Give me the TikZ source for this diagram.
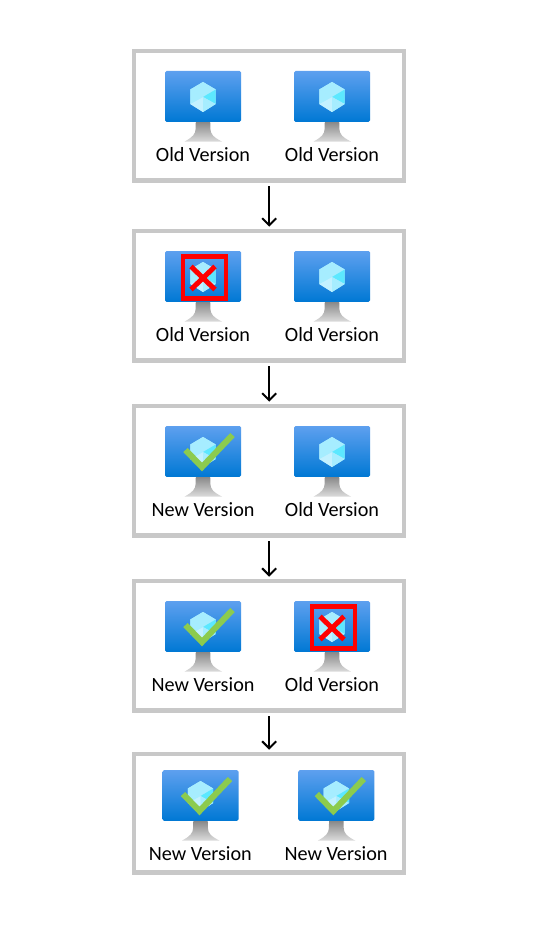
\documentclass[tikz,border=0pt]{standalone}
\usepackage{fontspec}
\usetikzlibrary{arrows.meta}
\setmainfont{Carlito}
\definecolor{boxgray}{HTML}{C8C8C8}
\definecolor{vmtop}{HTML}{5EA0EF}
\definecolor{vmbot}{HTML}{0078D4}
\definecolor{standA}{HTML}{858585}
\definecolor{standB}{HTML}{DCDCDC}
\definecolor{cubeA}{HTML}{C3F1FF}
\definecolor{cubeB}{HTML}{A6EDFF}
\definecolor{cubeC}{HTML}{5CE8FF}
\definecolor{cubeD}{HTML}{B3ECFF}
\definecolor{okgreen}{HTML}{8CCB4E}
\definecolor{badred}{HTML}{FF0000}
\tikzset{
  x=1pt,y=-1pt,
  frame/.style={draw=boxgray,line width=4.5pt,fill=white,minimum width=270pt,inner sep=0pt,outer sep=0pt,anchor=north west},
  flow/.style={draw=black,line width=2pt,-{Straight Barb[length=7pt,width=14pt,line width=2pt]},shorten <=5.5pt,shorten >=4.5pt},
  vmlabel/.style={font=\fontsize{20.2}{22}\selectfont,text=black,anchor=base,inner sep=0pt},
  pics/vm/.style={code={
    \shade[top color=standA,bottom color=standB]
      (-7.2,50) -- (7.2,50) -- (7.4,58) .. controls (7.6,63) and (10,66) .. (19,70.6)
      -- (-18.5,70.6) .. controls (-10,66) and (-7.6,63) .. (-7.4,58) -- cycle;
    \shade[top color=vmtop,bottom color=vmbot,rounded corners=1.5pt]
      (-38,0) rectangle (38,50.8);
    \fill[cubeD] (0,11) -- (12.7,18.5) -- (12.7,33) -- (0,41) -- (-12.7,33) -- (-12.7,18.5) -- cycle;
    \fill[cubeB] (0,11) -- (12.7,18.5) -- (0,26) -- (-12.7,18.5) -- cycle;
    \fill[cubeC] (12.7,18.5) -- (12.7,33) -- (0,26) -- cycle;
    \fill[cubeA] (-12.7,33) -- (0,26) -- (0,41) -- cycle;
    \fill[cubeB] (-12.7,18.5) -- (0,26) -- (-12.7,33) -- cycle;
    \fill[cubeB] (12.7,33) -- (0,26) -- (0,41) -- cycle;
  }},
  pics/okmark/.style={code={
    \draw[okgreen,line width=6pt,line join=miter]
      (-17.5,24) -- (-1,41) -- (29.5,9);
  }},
  pics/badmark/.style={code={
    \draw[badred,line width=4.5pt] (-20.2,5.3) rectangle (23.2,47.7);
    \draw[badred,line width=5pt] (-12,15.5) -- (12,38.5) (12,15.5) -- (-12,38.5);
  }},
}
\begin{document}
\begin{tikzpicture}
\useasboundingbox (0,0) rectangle (541,941);
\fill[white] (0,0) rectangle (541,941);

\node[frame,minimum height=129.5pt] (b1) at (134.2,51.2) {};
\node[frame,minimum height=129.5pt] (b2) at (134.2,231.2) {};
\node[frame,minimum height=129.5pt] (b3) at (134.2,406.2) {};
\node[frame,minimum height=129.5pt] (b4) at (134.2,581.2) {};
\node[frame,minimum height=118.5pt] (b5) at (134.2,754.2) {};

\foreach \a/\b in {b1/b2,b2/b3,b3/b4,b4/b5}
  \draw[flow] (\a.south) -- (\b.north);

\pic at (203,71) {vm};
\pic at (332,71) {vm};
\node[vmlabel] (t1a) at (203,161.7) {Old Version};
\node[vmlabel] (t1b) at (332,161.7) {Old Version};

\pic at (203,251) {vm};
\pic at (203,251) {badmark};
\pic at (332,251) {vm};
\node[vmlabel] (t2a) at (203,341.7) {Old Version};
\node[vmlabel] (t2b) at (332,341.7) {Old Version};

\pic at (203,426) {vm};
\pic at (203,426) {okmark};
\pic at (332,426) {vm};
\node[vmlabel] (t3a) at (203,516.7) {New Version};
\node[vmlabel] (t3b) at (332,516.7) {Old Version};

\pic at (203,601) {vm};
\pic at (203,601) {okmark};
\pic at (332,601) {vm};
\pic at (332,601) {badmark};
\node[vmlabel] (t4a) at (203,691.7) {New Version};
\node[vmlabel] (t4b) at (332,691.7) {Old Version};

\pic at (200.5,770) {vm};
\pic at (200.5,770) {okmark};
\pic at (336.3,770) {vm};
\pic at (334.3,770) {okmark};
\node[vmlabel] (t5a) at (200.3,860.7) {New Version};
\node[vmlabel] (t5b) at (336,860.7) {New Version};
\end{tikzpicture}
\end{document}
